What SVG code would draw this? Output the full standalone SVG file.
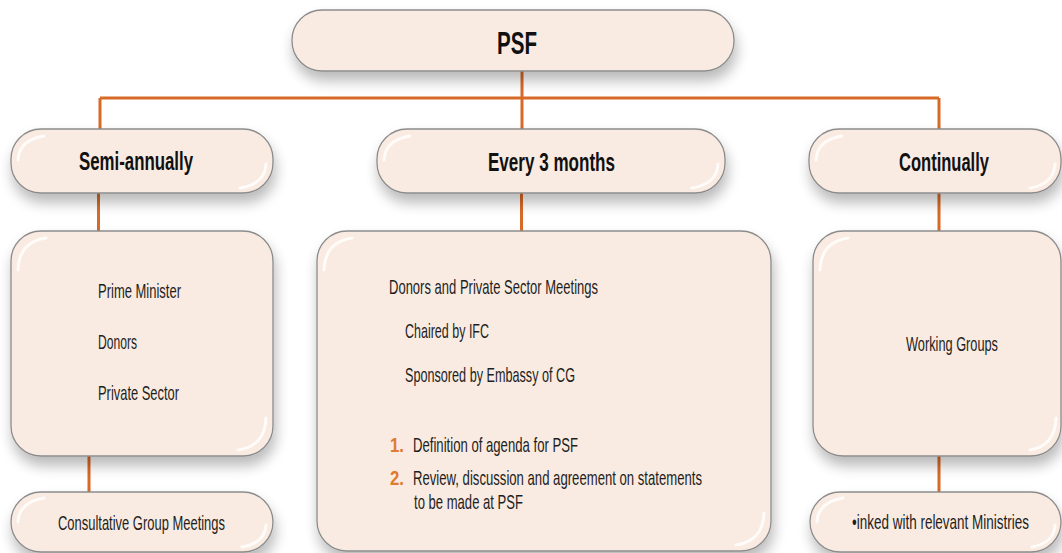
<svg xmlns="http://www.w3.org/2000/svg" width="1062" height="553" viewBox="0 0 1062 553">
<defs>
<filter id="sh" x="-20%" y="-30%" width="140%" height="180%">
<feGaussianBlur in="SourceAlpha" stdDeviation="7"/>
<feOffset dx="2" dy="9" result="b"/>
<feComponentTransfer><feFuncA type="linear" slope="0.28"/></feComponentTransfer>
<feMerge><feMergeNode/><feMergeNode in="SourceGraphic"/></feMerge>
</filter>
</defs>
<style>
.box{fill:#F9EBE1;stroke:#8C8C8C;stroke-width:1.3;filter:url(#sh)}
.gl{fill:none;stroke:#FFFFFF;stroke-opacity:0.8;stroke-width:3;stroke-linecap:round}
.con{fill:none;stroke:#D86A27;stroke-width:3}
.h{font-family:"Liberation Sans",Arial,sans-serif;font-weight:bold;fill:#111}
.t{font-family:"Liberation Sans",Arial,sans-serif;font-size:21px;fill:#1E1E1E}
.n{font-family:"Liberation Sans",Arial,sans-serif;font-weight:bold;font-size:21px;fill:#E07A2E}
</style>
<rect width="1062" height="553" fill="#FFFFFF"/>
<g id="connectors">
<path class="con" d="M522 71V98M100 98H939M100 98V129M522 98V129M939 98V129M98.5 193V231M521.5 193V231M939 193V231M89 456V492M939 456V492"/>
</g>
<g id="psf">
<rect class="box" x="292" y="10" width="442" height="61" rx="30"/>
<text class="h" x="517" y="54" font-size="31" text-anchor="middle" textLength="40" lengthAdjust="spacingAndGlyphs">PSF</text>
</g>
<g id="semi">
<rect class="box" x="11" y="129" width="262" height="64" rx="30"/>
<path class="gl" d="M18 160Q19 140 44 136M266 164Q265 184 240 188" stroke-width="2.5"/>
<text class="h" x="79" y="170" font-size="25" textLength="114" lengthAdjust="spacingAndGlyphs">Semi-annually</text>
</g>
<g id="every">
<rect class="box" x="377" y="129" width="348" height="64" rx="30"/>
<path class="gl" d="M384 160Q385 140 410 136M718 164Q717 184 692 188" stroke-width="2.5"/>
<text class="h" x="488" y="171" font-size="25" textLength="127" lengthAdjust="spacingAndGlyphs">Every 3 months</text>
</g>
<g id="continually">
<rect class="box" x="809" y="129" width="252" height="64" rx="30"/>
<path class="gl" d="M816 160Q817 140 842 136M1055 164Q1054 184 1030 188" stroke-width="2.5"/>
<text class="h" x="899" y="171" font-size="25" textLength="90" lengthAdjust="spacingAndGlyphs">Continually</text>
</g>
<g id="semi-members">
<rect class="box" x="11" y="231" width="262" height="225" rx="30"/>
<path class="gl" d="M18 270Q19 242 46 238M266 418Q265 446 238 450"/>
<text class="t" x="98" y="298" textLength="83" lengthAdjust="spacingAndGlyphs">Prime Minister</text>
<text class="t" x="98" y="349" textLength="39" lengthAdjust="spacingAndGlyphs">Donors</text>
<text class="t" x="98" y="400" textLength="81" lengthAdjust="spacingAndGlyphs">Private Sector</text>
</g>
<g id="quarterly-members">
<rect class="box" x="317" y="231" width="454" height="320" rx="30"/>
<path class="gl" d="M324 270Q325 242 352 238M764 513Q763 541 736 545"/>
<text class="t" x="389" y="294" textLength="209" lengthAdjust="spacingAndGlyphs">Donors and Private Sector Meetings</text>
<text class="t" x="405" y="338" textLength="84" lengthAdjust="spacingAndGlyphs">Chaired by IFC</text>
<text class="t" x="405" y="382" textLength="170" lengthAdjust="spacingAndGlyphs">Sponsored by Embassy of CG</text>
<text class="n" x="390" y="452" textLength="14" lengthAdjust="spacingAndGlyphs">1.</text>
<text class="t" x="413" y="452" textLength="165" lengthAdjust="spacingAndGlyphs">Definition of agenda for PSF</text>
<text class="n" x="390" y="485" textLength="14" lengthAdjust="spacingAndGlyphs">2.</text>
<text class="t" x="413" y="485" textLength="289" lengthAdjust="spacingAndGlyphs">Review, discussion and agreement on statements</text>
<text class="t" x="414" y="509" textLength="109" lengthAdjust="spacingAndGlyphs">to be made at PSF</text>
</g>
<g id="working-groups">
<rect class="box" x="813" y="231" width="248" height="225" rx="30"/>
<path class="gl" d="M820 270Q821 242 848 238M1056 418Q1055 446 1030 450"/>
<text class="t" x="906" y="351" textLength="92" lengthAdjust="spacingAndGlyphs">Working Groups</text>
</g>
<g id="consultative">
<rect class="box" x="11" y="492" width="262" height="60" rx="30"/>
<path class="gl" d="M18 522Q19 502 44 498M266 525Q265 543 242 547" stroke-width="2.5"/>
<text class="t" x="58" y="530" textLength="167" lengthAdjust="spacingAndGlyphs">Consultative Group Meetings</text>
</g>
<g id="linked">
<rect class="box" x="810" y="492" width="251" height="60" rx="30"/>
<path class="gl" d="M817 522Q818 502 843 498M1055 525Q1054 543 1032 547" stroke-width="2.5"/>
<text class="t" x="852" y="529" textLength="177" lengthAdjust="spacingAndGlyphs">•inked with relevant Ministries</text>
</g>
</svg>
